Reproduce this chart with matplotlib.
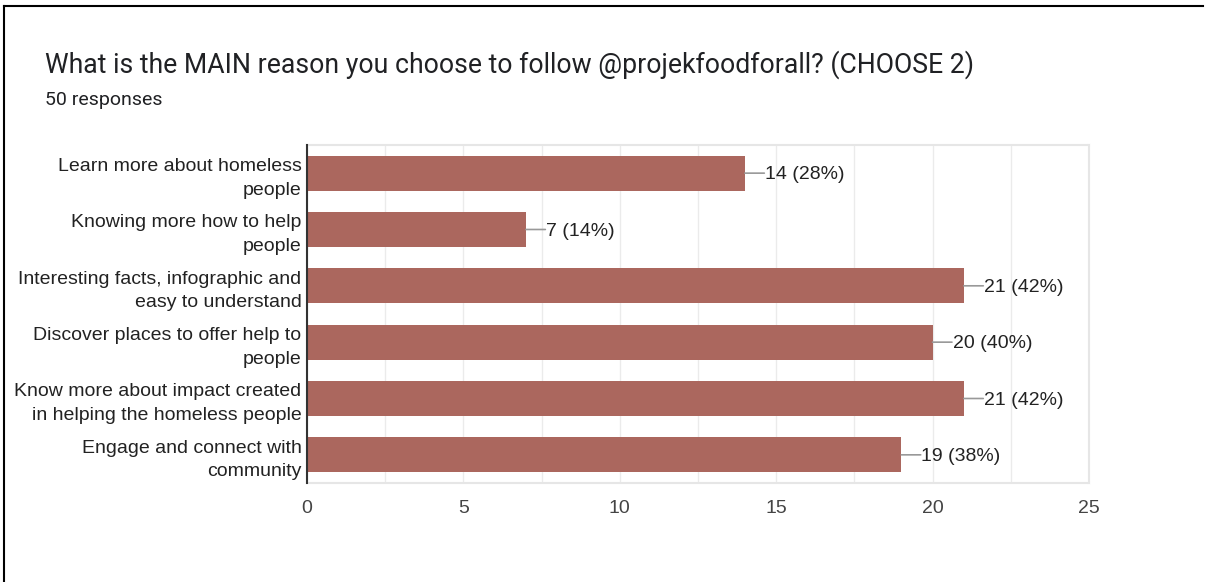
import matplotlib.pyplot as plt
from matplotlib.lines import Line2D

reasons = [
    'Learn more about homeless\npeople',
    'Knowing more how to help\npeople',
    'Interesting facts, infographic and\neasy to understand',
    'Discover places to offer help to\npeople',
    'Know more about impact created\nin helping the homeless people',
    'Engage and connect with\ncommunity',
]
counts = [14, 7, 21, 20, 21, 19]
total = 50
x_ticks = [0, 5, 10, 15, 20, 25]

bar_color = '#ab675e'

fig = plt.figure(figsize=(12.09, 5.82), dpi=100)
ax = fig.add_axes([0.2539, 0.1701, 0.6468, 0.5808])

y = list(range(len(counts)))
ax.barh(y, counts, height=0.62, color=bar_color, zorder=3)
ax.set_ylim(len(counts) - 0.5, -0.5)
ax.set_xlim(0, 25)

# light grid every 2.5, labels only every 5
ax.set_xticks([i * 2.5 for i in range(11)], minor=True)
ax.set_xticks(x_ticks)
ax.set_xticklabels([str(t) for t in x_ticks], fontsize=14, color='#444444',
                   family='Liberation Sans')
ax.grid(axis='x', which='both', color='#ebebeb', linewidth=1, zorder=0)
ax.tick_params(axis='x', which='both', length=0, pad=12)
ax.tick_params(axis='y', length=0, pad=4)

ax.set_yticks(y)
ax.set_yticklabels(reasons, fontsize=14, color='#222222', family='Liberation Sans',
                   linespacing=1.5)

for side in ['top', 'right', 'bottom']:
    ax.spines[side].set_color('#e6e6e6')
    ax.spines[side].set_linewidth(1.5)
ax.spines['left'].set_color('#333333')
ax.spines['left'].set_linewidth(1.5)
ax.spines['left'].set_zorder(4)

for yi, c in zip(y, counts):
    # short grey leader from the bar end
    ax.annotate('', xy=(c, yi), xytext=(14, 0), textcoords='offset points',
                arrowprops=dict(arrowstyle='-', color='#999999', lw=1.2,
                                shrinkA=0, shrinkB=0))
    ax.annotate('%d (%d%%)' % (c, round(c * 100 / total)), xy=(c, yi),
                xytext=(14.5, -1.2), textcoords='offset points', va='center', ha='left',
                fontsize=14, color='#222222', family='Liberation Sans')

fig.text(45 / 1209, 1 - 65 / 582,
         'What is the MAIN reason you choose to follow @projekfoodforall? (CHOOSE 2)',
         fontsize=19.2, color='#202124', family='Roboto', va='center', ha='left')
fig.text(45 / 1209, 1 - 100 / 582, '50 responses', fontsize=14, color='#202124',
         family='Roboto', va='center', ha='left')

# card edges
fig.add_artist(Line2D([4 / 1209, 4 / 1209], [0, 1 - 6 / 582], color='black',
                      lw=1.5, transform=fig.transFigure))
fig.add_artist(Line2D([4 / 1209, 1203 / 1209], [1 - 6 / 582, 1 - 6 / 582],
                      color='black', lw=1.5, transform=fig.transFigure))

fig.savefig('out.png', dpi=100, facecolor='white')
